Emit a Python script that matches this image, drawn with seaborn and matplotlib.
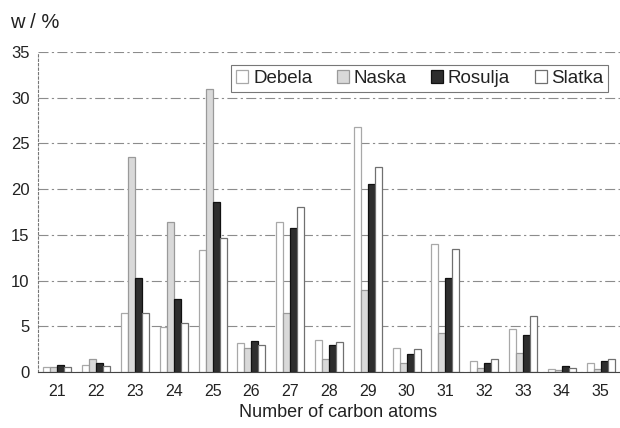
import matplotlib
matplotlib.use("Agg")
import matplotlib.pyplot as plt
import seaborn as sns
import pandas as pd
import numpy as np
from matplotlib.patches import Patch

carbons = ["21", "22", "23", "24", "25", "26", "27", "28", "29", "30", "31", "32", "33", "34", "35"]
debela = [0.6, 0.8, 6.4, 4.9, 13.3, 3.2, 16.4, 3.45, 26.8, 2.6, 14.0, 1.25, 4.7, 0.35, 1.0]
naska = [0.6, 1.4, 23.5, 16.4, 31.0, 2.6, 6.4, 1.4, 9.0, 1.0, 4.3, 0.45, 2.1, 0.2, 0.3]
rosulja = [0.72, 1.0, 10.3, 8.0, 18.6, 3.4, 15.8, 2.9, 20.6, 2.0, 10.3, 1.0, 4.05, 0.7, 1.15]
slatka = [0.55, 0.7, 6.4, 5.4, 14.7, 3.0, 18.1, 3.3, 22.4, 2.5, 13.4, 1.4, 6.1, 0.45, 1.4]
series = ["Debela", "Naska", "Rosulja", "Slatka"]

rows = []
for name, vals in zip(series, [debela, naska, rosulja, slatka]):
    for c, v in zip(carbons, vals):
        rows.append({"C": c, "w": v, "sample": name})
df = pd.DataFrame(rows)

sns.set_theme(style="white")
plt.rcParams["font.family"] = ["Liberation Sans", "DejaVu Sans"]

fig = plt.figure(figsize=(6.2, 4.28), dpi=100)
ax = fig.add_axes([38 / 620, 1 - 372 / 428, 582 / 620, 320 / 428])

faces = ["white", "#d9d9d9", "#2e2e2e", "white"]
edges = ["#a8a8a8", "#9a9a9a", "#111111", "#707070"]
sns.barplot(data=df, x="C", y="w", hue="sample", hue_order=series, order=carbons,
            palette=faces, width=0.72, ax=ax, legend=False, saturation=1)
for cont, fc, ec in zip(ax.containers, faces, edges):
    for p in cont:
        p.set_facecolor(fc)
        p.set_edgecolor(ec)
        p.set_linewidth(0.9)

ax.set_xlim(-0.5, 14.5)
ax.set_ylim(0, 35)
ax.set_yticks(np.arange(0, 36, 5))
ax.set_axisbelow(True)
ax.yaxis.grid(True, linestyle=(0, (9, 3, 2, 3)), color="#8c8c8c", linewidth=0.8)
ax.xaxis.grid(False)

for s in ["top", "right"]:
    ax.spines[s].set_visible(False)
ax.spines["left"].set_linestyle((0, (2, 2)))
ax.spines["left"].set_color("#777777")
ax.spines["left"].set_linewidth(0.8)
ax.spines["bottom"].set_color("#444444")
ax.spines["bottom"].set_linewidth(0.8)

ax.tick_params(axis="x", which="major", length=0, pad=9, labelsize=11.5, labelcolor="#222222")
ax.set_xticks(np.arange(0.5, 14, 1), minor=True)
ax.tick_params(axis="x", which="minor", length=5, direction="inout", color="#444444", width=0.8)
ax.tick_params(axis="y", length=0, pad=6, labelsize=12, labelcolor="#222222")

ax.set_xlabel("Number of carbon atoms", fontsize=13, color="#222222")
ax.xaxis.set_label_coords(0.516, -0.1)
ax.set_ylabel("")
fig.text(10 / 620, 1 - 23 / 428, "w / %", fontsize=14.5, color="#222222", va="center", ha="left")

handles = [Patch(facecolor=fc, edgecolor=ec, linewidth=0.9) for fc, ec in zip(faces, edges)]
leg = ax.legend(handles, series, loc="upper right", bbox_to_anchor=(0.98, 0.958), ncol=4,
                fontsize=13.5, handlelength=0.65, handleheight=0.65, handletextpad=0.25,
                columnspacing=1.3, frameon=True, fancybox=False, borderpad=0.25,
                borderaxespad=0)
leg.get_frame().set_edgecolor("#555555")
leg.get_frame().set_linewidth(0.8)
for t in leg.get_texts():
    t.set_color("#222222")

fig.savefig("out.png", dpi=100)
